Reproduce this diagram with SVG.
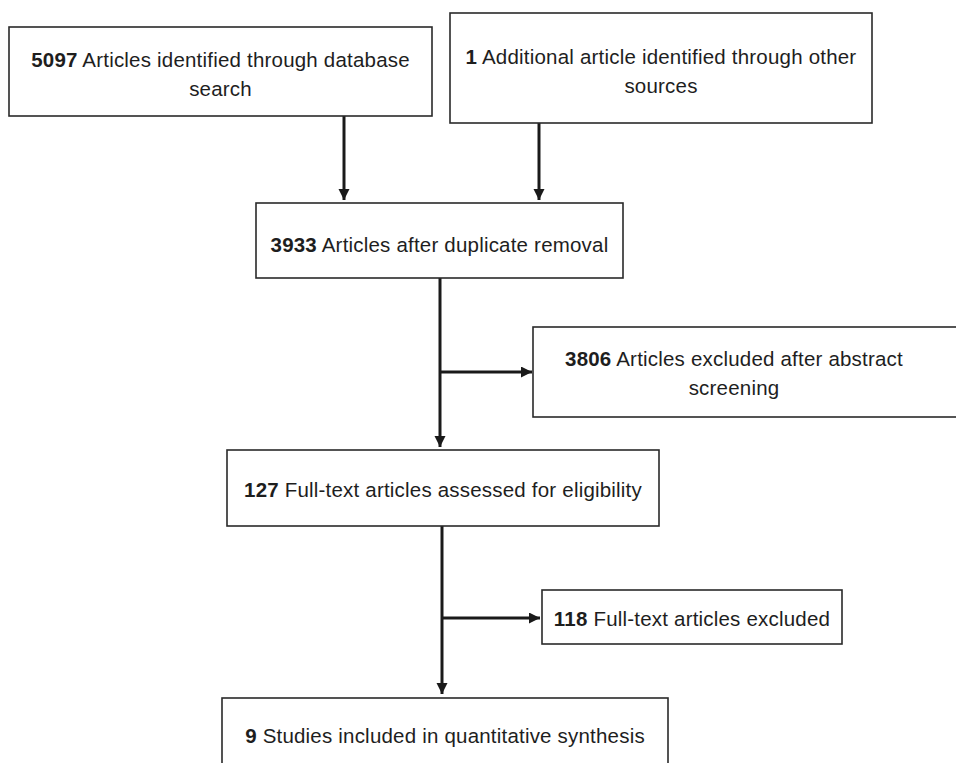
<svg xmlns="http://www.w3.org/2000/svg" width="956" height="763" viewBox="0 0 956 763">
  <style>
    .box { fill: #ffffff; stroke: #2a2a2a; stroke-width: 1.6; }
    .t { font-family: "Liberation Sans", Arial, sans-serif; font-size: 20.5px; letter-spacing: 0.2px; fill: #1e1e1e; text-anchor: middle; }
    .b { font-weight: bold; }
    .c { fill: none; stroke: #1a1a1a; stroke-width: 3; }
  </style>
  <defs>
    <marker id="ah" markerUnits="userSpaceOnUse" markerWidth="12" markerHeight="12" refX="11" refY="5.5" orient="auto">
      <path d="M0,0 L11,5.5 L0,11 z" fill="#1a1a1a"/>
    </marker>
  </defs>
  <rect width="956" height="763" fill="#ffffff"/>

  <g id="connectors">
    <line class="c" x1="344" y1="116" x2="344" y2="200" marker-end="url(#ah)"/>
    <line class="c" x1="539" y1="123" x2="539" y2="200" marker-end="url(#ah)"/>
    <line class="c" x1="440" y1="278" x2="440" y2="447" marker-end="url(#ah)"/>
    <line class="c" x1="440" y1="372" x2="532" y2="372" marker-end="url(#ah)"/>
    <line class="c" x1="442" y1="526" x2="442" y2="694" marker-end="url(#ah)"/>
    <line class="c" x1="442" y1="618" x2="540" y2="618" marker-end="url(#ah)"/>
  </g>

  <g id="n1">
    <rect class="box" x="9" y="27" width="423" height="89"/>
    <text class="t" x="220.5" y="66.5"><tspan class="b">5097</tspan> Articles identified through database</text>
    <text class="t" x="220.5" y="96">search</text>
  </g>
  <g id="n2">
    <rect class="box" x="450" y="13" width="422" height="110"/>
    <text class="t" x="661" y="63.5"><tspan class="b">1</tspan> Additional article identified through other</text>
    <text class="t" x="661" y="92.5">sources</text>
  </g>
  <g id="n3">
    <rect class="box" x="256" y="203" width="367" height="75"/>
    <text class="t" x="439.5" y="252"><tspan class="b">3933</tspan> Articles after duplicate removal</text>
  </g>
  <g id="n4">
    <rect class="box" x="533" y="327" width="430" height="90"/>
    <text class="t" x="734" y="366"><tspan class="b">3806</tspan> Articles excluded after abstract</text>
    <text class="t" x="734" y="395">screening</text>
  </g>
  <g id="n5">
    <rect class="box" x="227" y="450" width="432" height="76"/>
    <text class="t" x="443" y="496.5"><tspan class="b">127</tspan> Full-text articles assessed for eligibility</text>
  </g>
  <g id="n6">
    <rect class="box" x="542" y="590" width="300" height="54"/>
    <text class="t" x="692" y="626"><tspan class="b">118</tspan> Full-text articles excluded</text>
  </g>
  <g id="n7">
    <rect class="box" x="222" y="698" width="446" height="80"/>
    <text class="t" x="445" y="743"><tspan class="b">9</tspan> Studies included in quantitative synthesis</text>
  </g>
</svg>
